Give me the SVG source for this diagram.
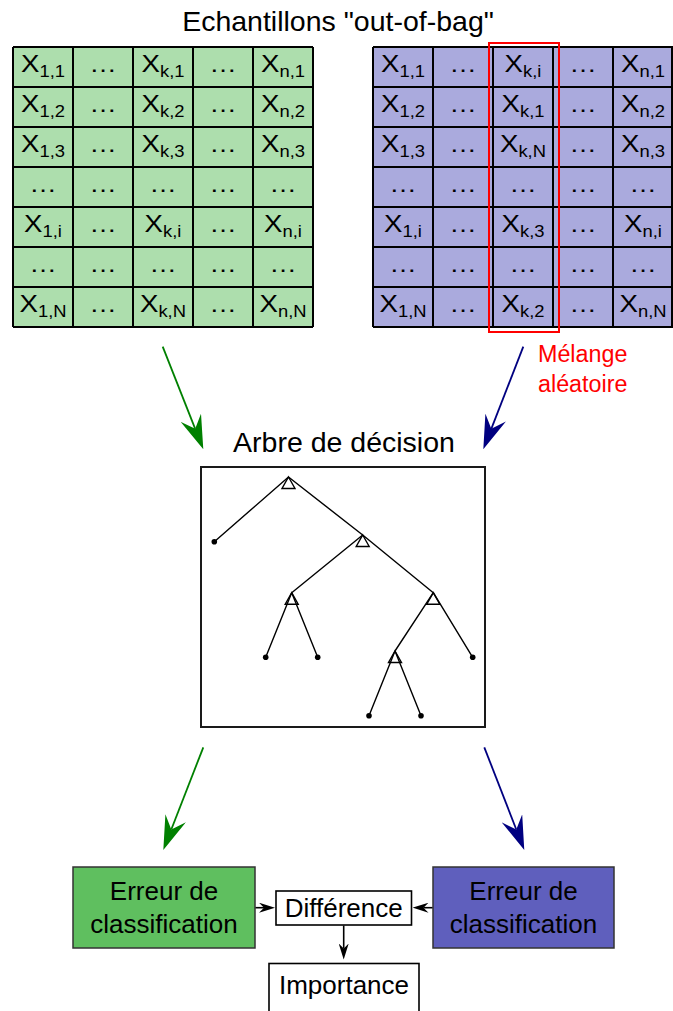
<svg xmlns="http://www.w3.org/2000/svg" width="673" height="1011" viewBox="0 0 673 1011">
<style>
text{font-family:"Liberation Sans",Arial,sans-serif;fill:#000}
.t{font-size:28.5px;text-anchor:middle}
.c{font-size:24px;text-anchor:middle}
.s{font-size:16px}
.b{font-size:26px;text-anchor:middle}
.r{font-size:23.3px;fill:#ff0000}
.grid{fill:none;stroke:#000;stroke-width:2}
.edge{stroke:#000;stroke-width:1.4;fill:none}
.tri{stroke:#000;stroke-width:1.4;fill:none}
.leaf{fill:#000}
.ga{stroke:#008000;stroke-width:1.8;fill:none}
.ba{stroke:#000080;stroke-width:1.8;fill:none}
.ka{stroke:#000;stroke-width:1.6;fill:none}
</style>
<defs>
<marker id="hg" viewBox="0 0 34 22" refX="12" refY="11" markerWidth="34" markerHeight="22" markerUnits="userSpaceOnUse" orient="auto"><path d="M0,0 L34,11 L0,22 L12,11 Z" fill="#008000"/></marker>
<marker id="hb" viewBox="0 0 34 22" refX="12" refY="11" markerWidth="34" markerHeight="22" markerUnits="userSpaceOnUse" orient="auto"><path d="M0,0 L34,11 L0,22 L12,11 Z" fill="#000080"/></marker>
<marker id="hk" viewBox="0 0 16 10" refX="5" refY="5" markerWidth="16" markerHeight="10" markerUnits="userSpaceOnUse" orient="auto"><path d="M0,0 L16,5 L0,10 L5,5 Z" fill="#000"/></marker>
</defs>

<text class="t" x="338" y="31">Echantillons "out-of-bag"</text>

<g id="grid-left">
<rect x="13" y="47" width="300" height="280" fill="#addead"/>
<path class="grid" d="M13,47V327M73,47V327M133,47V327M193,47V327M253,47V327M313,47V327M13,47H313M13,87H313M13,127H313M13,167H313M13,207H313M13,247H313M13,287H313M13,327H313"/>
<g>
<text class="c" transform="matrix(1.15 0 0 1 43 72)">X<tspan class="s" dy="5">1,1</tspan></text>
<text class="c" transform="matrix(1.15 0 0 1 103 72)">…</text>
<text class="c" transform="matrix(1.15 0 0 1 163 72)">X<tspan class="s" dy="5">k,1</tspan></text>
<text class="c" transform="matrix(1.15 0 0 1 223 72)">…</text>
<text class="c" transform="matrix(1.15 0 0 1 283 72)">X<tspan class="s" dy="5">n,1</tspan></text>

<text class="c" transform="matrix(1.15 0 0 1 43 112)">X<tspan class="s" dy="5">1,2</tspan></text>
<text class="c" transform="matrix(1.15 0 0 1 103 112)">…</text>
<text class="c" transform="matrix(1.15 0 0 1 163 112)">X<tspan class="s" dy="5">k,2</tspan></text>
<text class="c" transform="matrix(1.15 0 0 1 223 112)">…</text>
<text class="c" transform="matrix(1.15 0 0 1 283 112)">X<tspan class="s" dy="5">n,2</tspan></text>

<text class="c" transform="matrix(1.15 0 0 1 43 152)">X<tspan class="s" dy="5">1,3</tspan></text>
<text class="c" transform="matrix(1.15 0 0 1 103 152)">…</text>
<text class="c" transform="matrix(1.15 0 0 1 163 152)">X<tspan class="s" dy="5">k,3</tspan></text>
<text class="c" transform="matrix(1.15 0 0 1 223 152)">…</text>
<text class="c" transform="matrix(1.15 0 0 1 283 152)">X<tspan class="s" dy="5">n,3</tspan></text>

<text class="c" transform="matrix(1.15 0 0 1 43 192)">…</text>
<text class="c" transform="matrix(1.15 0 0 1 103 192)">…</text>
<text class="c" transform="matrix(1.15 0 0 1 163 192)">…</text>
<text class="c" transform="matrix(1.15 0 0 1 223 192)">…</text>
<text class="c" transform="matrix(1.15 0 0 1 283 192)">…</text>

<text class="c" transform="matrix(1.15 0 0 1 43 232)">X<tspan class="s" dy="5">1,i</tspan></text>
<text class="c" transform="matrix(1.15 0 0 1 103 232)">…</text>
<text class="c" transform="matrix(1.15 0 0 1 163 232)">X<tspan class="s" dy="5">k,i</tspan></text>
<text class="c" transform="matrix(1.15 0 0 1 223 232)">…</text>
<text class="c" transform="matrix(1.15 0 0 1 283 232)">X<tspan class="s" dy="5">n,i</tspan></text>

<text class="c" transform="matrix(1.15 0 0 1 43 272)">…</text>
<text class="c" transform="matrix(1.15 0 0 1 103 272)">…</text>
<text class="c" transform="matrix(1.15 0 0 1 163 272)">…</text>
<text class="c" transform="matrix(1.15 0 0 1 223 272)">…</text>
<text class="c" transform="matrix(1.15 0 0 1 283 272)">…</text>

<text class="c" transform="matrix(1.15 0 0 1 43 312)">X<tspan class="s" dy="5">1,N</tspan></text>
<text class="c" transform="matrix(1.15 0 0 1 103 312)">…</text>
<text class="c" transform="matrix(1.15 0 0 1 163 312)">X<tspan class="s" dy="5">k,N</tspan></text>
<text class="c" transform="matrix(1.15 0 0 1 223 312)">…</text>
<text class="c" transform="matrix(1.15 0 0 1 283 312)">X<tspan class="s" dy="5">n,N</tspan></text>
</g>
</g>

<g id="grid-right">
<rect x="373" y="47" width="300" height="280" fill="#aaaadd"/>
<path class="grid" d="M373,47V327M433,47V327M493,47V327M553,47V327M613,47V327M672,47V327M373,47H673M373,87H673M373,127H673M373,167H673M373,207H673M373,247H673M373,287H673M373,327H673"/>
<g>
<text class="c" transform="matrix(1.15 0 0 1 403 72)">X<tspan class="s" dy="5">1,1</tspan></text>
<text class="c" transform="matrix(1.15 0 0 1 463 72)">…</text>
<text class="c" transform="matrix(1.15 0 0 1 523 72)">X<tspan class="s" dy="5">k,i</tspan></text>
<text class="c" transform="matrix(1.15 0 0 1 583 72)">…</text>
<text class="c" transform="matrix(1.15 0 0 1 643 72)">X<tspan class="s" dy="5">n,1</tspan></text>

<text class="c" transform="matrix(1.15 0 0 1 403 112)">X<tspan class="s" dy="5">1,2</tspan></text>
<text class="c" transform="matrix(1.15 0 0 1 463 112)">…</text>
<text class="c" transform="matrix(1.15 0 0 1 523 112)">X<tspan class="s" dy="5">k,1</tspan></text>
<text class="c" transform="matrix(1.15 0 0 1 583 112)">…</text>
<text class="c" transform="matrix(1.15 0 0 1 643 112)">X<tspan class="s" dy="5">n,2</tspan></text>

<text class="c" transform="matrix(1.15 0 0 1 403 152)">X<tspan class="s" dy="5">1,3</tspan></text>
<text class="c" transform="matrix(1.15 0 0 1 463 152)">…</text>
<text class="c" transform="matrix(1.15 0 0 1 523 152)">X<tspan class="s" dy="5">k,N</tspan></text>
<text class="c" transform="matrix(1.15 0 0 1 583 152)">…</text>
<text class="c" transform="matrix(1.15 0 0 1 643 152)">X<tspan class="s" dy="5">n,3</tspan></text>

<text class="c" transform="matrix(1.15 0 0 1 403 192)">…</text>
<text class="c" transform="matrix(1.15 0 0 1 463 192)">…</text>
<text class="c" transform="matrix(1.15 0 0 1 523 192)">…</text>
<text class="c" transform="matrix(1.15 0 0 1 583 192)">…</text>
<text class="c" transform="matrix(1.15 0 0 1 643 192)">…</text>

<text class="c" transform="matrix(1.15 0 0 1 403 232)">X<tspan class="s" dy="5">1,i</tspan></text>
<text class="c" transform="matrix(1.15 0 0 1 463 232)">…</text>
<text class="c" transform="matrix(1.15 0 0 1 523 232)">X<tspan class="s" dy="5">k,3</tspan></text>
<text class="c" transform="matrix(1.15 0 0 1 583 232)">…</text>
<text class="c" transform="matrix(1.15 0 0 1 643 232)">X<tspan class="s" dy="5">n,i</tspan></text>

<text class="c" transform="matrix(1.15 0 0 1 403 272)">…</text>
<text class="c" transform="matrix(1.15 0 0 1 463 272)">…</text>
<text class="c" transform="matrix(1.15 0 0 1 523 272)">…</text>
<text class="c" transform="matrix(1.15 0 0 1 583 272)">…</text>
<text class="c" transform="matrix(1.15 0 0 1 643 272)">…</text>

<text class="c" transform="matrix(1.15 0 0 1 403 312)">X<tspan class="s" dy="5">1,N</tspan></text>
<text class="c" transform="matrix(1.15 0 0 1 463 312)">…</text>
<text class="c" transform="matrix(1.15 0 0 1 523 312)">X<tspan class="s" dy="5">k,2</tspan></text>
<text class="c" transform="matrix(1.15 0 0 1 583 312)">…</text>
<text class="c" transform="matrix(1.15 0 0 1 643 312)">X<tspan class="s" dy="5">n,N</tspan></text>
</g>
<rect x="489" y="43" width="70" height="289" fill="none" stroke="#ff0000" stroke-width="2"/>
</g>

<g id="shuffle-label">
<text class="r" x="538" y="362">Mélange</text>
<text class="r" x="538" y="392">aléatoire</text>
</g>

<g id="tree">
<text class="t" x="344" y="452">Arbre de décision</text>
<rect x="201" y="467" width="284" height="260" fill="#fff" stroke="#1a1a1a" stroke-width="2"/>
<path class="edge" d="M288.5,477L214.3,541.7M288.5,477L362.7,535M362.7,535L291.7,592.7M362.7,535L433.3,592.7M291.7,592.7L265.7,657.3M291.7,592.7L317.7,657.3M433.3,592.7L395,651M433.3,592.7L472.7,657.3M395,651L369,715.7M395,651L421,715.7"/>
<path class="tri" d="M288.5,477l6.5,11.5h-13zM362.7,535l6.5,11.5h-13zM291.7,592.7l6.5,11.5h-13zM433.3,592.7l6.5,11.5h-13zM395,651l6.5,11.5h-13z"/>
<g class="leaf">
<circle cx="214.3" cy="541.7" r="2.8"/>
<circle cx="265.7" cy="657.3" r="2.8"/>
<circle cx="317.7" cy="657.3" r="2.8"/>
<circle cx="472.7" cy="657.3" r="2.8"/>
<circle cx="369" cy="715.7" r="2.8"/>
<circle cx="421" cy="715.7" r="2.8"/>
</g>
</g>

<g id="err-green">
<rect x="73" y="867" width="182" height="81" fill="#5fbf5f" stroke="#333" stroke-width="1.5"/>
<text class="b" x="164" y="899.5">Erreur de</text>
<text class="b" x="164" y="932.5">classification</text>
</g>

<g id="err-blue">
<rect x="433" y="867" width="181" height="81" fill="#5f5fbd" stroke="#333" stroke-width="1.5"/>
<text class="b" x="523.5" y="899.5">Erreur de</text>
<text class="b" x="523.5" y="932.5">classification</text>
</g>

<g id="difference">
<rect x="276" y="891" width="135.5" height="34" fill="#fff" stroke="#000" stroke-width="1.6"/>
<text class="b" x="343.7" y="917">Différence</text>
</g>

<g id="importance">
<rect x="269" y="963.5" width="150" height="60" fill="#fff" stroke="#000" stroke-width="1.6"/>
<text class="b" x="344" y="994">Importance</text>
</g>

<g id="connectors">
<line class="ga" x1="162.7" y1="346.7" x2="195.2" y2="428.8" marker-end="url(#hg)"/>
<line class="ba" x1="523.3" y1="346.7" x2="491.3" y2="428.8" marker-end="url(#hb)"/>
<line class="ga" x1="203.3" y1="747.3" x2="171.3" y2="829.5" marker-end="url(#hg)"/>
<line class="ba" x1="484.3" y1="747.3" x2="516.3" y2="829.5" marker-end="url(#hb)"/>
<line class="ka" x1="255.5" y1="907.7" x2="264" y2="907.7" marker-end="url(#hk)"/>
<line class="ka" x1="432.5" y1="907.7" x2="423.5" y2="907.7" marker-end="url(#hk)"/>
<line class="ka" x1="343.7" y1="925.5" x2="343.7" y2="948.5" marker-end="url(#hk)"/>
</g>
</svg>
